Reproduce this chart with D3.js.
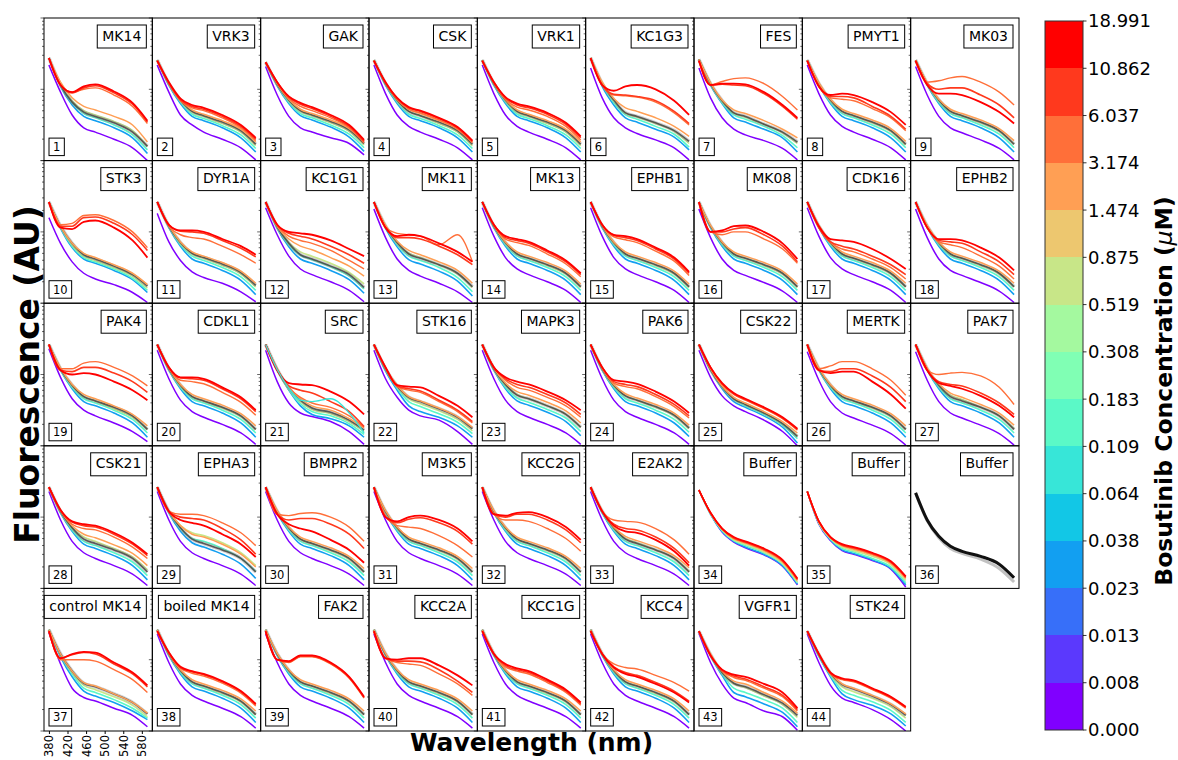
<!DOCTYPE html>
<html>
<head>
<meta charset="utf-8">
<script src="https://cdn.jsdelivr.net/npm/d3@7"></script>
<style>
  body { margin: 0; background: #fff; }
  svg { display: block; }
  text { font-family: "DejaVu Sans", sans-serif; }
</style>
</head>
<body>
<svg id="chart" width="1178" height="760"></svg>
<script>
// panel titles, in reading order (9 per row)
const kinases = ["MK14","VRK3","GAK","CSK","VRK1","KC1G3","FES","PMYT1","MK03",
  "STK3","DYR1A","KC1G1","MK11","MK13","EPHB1","MK08","CDK16","EPHB2",
  "PAK4","CDKL1","SRC","STK16","MAPK3","PAK6","CSK22","MERTK","PAK7",
  "CSK21","EPHA3","BMPR2","M3K5","KCC2G","E2AK2","Buffer","Buffer","Buffer",
  "control MK14","boiled MK14","FAK2","KCC2A","KCC1G","KCC4","VGFR1","STK24"];

// wavelengths (nm) at which each trace is sampled
const wavelengths = [380, 405, 430, 455, 480, 520, 560, 592];
const xTicks = [380, 420, 460, 500, 540, 580];

// colorbar boundaries (uM)
const concTicks = ["0.000","0.008","0.013","0.023","0.038","0.064","0.109","0.183",
  "0.308","0.519","0.875","1.474","3.174","6.037","10.862","18.991"];

// traces: log10 fluorescence (AU), one row per panel (null = no trace)
const conc0 = [
  [4.34,3.96,3.64,3.46,3.40,3.30,3.18,3.00],[4.34,3.96,3.64,3.50,3.40,3.30,3.18,3.01],
  [4.32,3.92,3.62,3.46,3.40,3.32,3.24,3.08],[4.34,3.94,3.64,3.48,3.40,3.30,3.18,3.01],
  [4.34,3.94,3.64,3.48,3.40,3.30,3.18,3.01],[4.30,3.88,3.60,3.46,3.38,3.29,3.18,3.01],
  [4.30,3.88,3.60,3.44,3.36,3.28,3.17,3.01],[4.34,3.94,3.64,3.48,3.40,3.30,3.18,3.01],
  [4.32,3.92,3.62,3.46,3.39,3.29,3.17,3.01],[4.20,3.84,3.58,3.42,3.34,3.26,3.15,3.01],
  [4.26,3.86,3.60,3.44,3.36,3.28,3.16,3.02],[4.34,3.96,3.66,3.48,3.40,3.30,3.18,3.02],
  [4.32,3.92,3.62,3.46,3.38,3.28,3.16,3.01],[4.34,3.94,3.64,3.48,3.40,3.30,3.18,3.01],
  [4.34,3.94,3.64,3.48,3.40,3.30,3.18,3.01],[4.32,3.92,3.62,3.46,3.39,3.29,3.17,3.01],
  [4.34,3.94,3.64,3.48,3.40,3.30,3.18,3.01],[4.32,3.92,3.62,3.46,3.39,3.29,3.17,3.01],
  [4.36,3.96,3.66,3.50,3.42,3.32,3.20,3.06],[4.34,3.94,3.64,3.48,3.40,3.30,3.18,3.02],
  [4.34,3.90,3.60,3.46,3.41,3.34,3.20,3.02],[4.34,3.94,3.68,3.50,3.42,3.36,3.20,3.02],
  [4.34,3.94,3.64,3.48,3.40,3.30,3.18,3.02],[4.34,3.94,3.64,3.48,3.40,3.30,3.18,3.02],
  [4.34,3.96,3.70,3.56,3.48,3.36,3.20,3.00],[4.32,3.92,3.62,3.46,3.39,3.29,3.17,3.01],
  [4.32,3.92,3.62,3.46,3.39,3.29,3.17,3.01],[4.36,3.96,3.66,3.50,3.42,3.32,3.20,3.04],
  [4.36,3.96,3.66,3.50,3.42,3.32,3.20,3.04],[4.36,3.96,3.66,3.50,3.42,3.32,3.20,3.04],
  [4.36,3.96,3.66,3.50,3.42,3.32,3.20,3.04],[4.36,3.96,3.66,3.50,3.42,3.32,3.20,3.04],
  [4.36,3.96,3.66,3.50,3.42,3.32,3.20,3.04],[4.38,4.05,3.79,3.65,3.57,3.47,3.31,3.05],
  [4.36,3.90,3.67,3.53,3.48,3.39,3.27,3.02],null,
  [4.38,3.94,3.60,3.47,3.42,3.32,3.22,3.06],[4.36,3.96,3.66,3.50,3.42,3.32,3.20,3.04],
  [4.36,3.96,3.66,3.50,3.42,3.32,3.20,3.04],[4.36,3.96,3.66,3.50,3.42,3.32,3.20,3.04],
  [4.36,3.96,3.66,3.50,3.42,3.32,3.20,3.04],[4.36,3.96,3.66,3.50,3.42,3.32,3.20,3.04],
  [4.37,3.96,3.66,3.46,3.40,3.28,3.20,3.01],[4.36,3.96,3.64,3.46,3.40,3.30,3.16,3.00]
];
const conc3 = [
  [4.44,4.04,3.78,3.62,3.56,3.46,3.32,3.10],[4.41,4.06,3.80,3.62,3.56,3.46,3.32,3.12],
  [4.38,4.05,3.80,3.63,3.57,3.47,3.33,3.13],[4.41,4.06,3.80,3.62,3.56,3.46,3.32,3.12],
  [4.41,4.06,3.80,3.62,3.56,3.46,3.32,3.12],[4.44,4.04,3.78,3.60,3.54,3.44,3.33,3.15],
  [4.42,4.06,3.80,3.60,3.54,3.44,3.32,3.12],[4.41,4.06,3.80,3.62,3.56,3.46,3.32,3.12],
  [4.41,4.06,3.80,3.62,3.56,3.46,3.32,3.12],[4.42,4.05,3.78,3.62,3.56,3.46,3.33,3.15],
  [4.42,4.06,3.80,3.62,3.56,3.46,3.32,3.12],[4.42,4.05,3.79,3.62,3.56,3.46,3.33,3.14],
  [4.42,4.05,3.79,3.61,3.55,3.45,3.31,3.10],[4.42,4.06,3.80,3.62,3.56,3.46,3.32,3.12],
  [4.42,4.06,3.80,3.62,3.56,3.46,3.32,3.12],[4.42,4.06,3.80,3.62,3.56,3.46,3.32,3.12],
  [4.42,4.06,3.80,3.62,3.56,3.46,3.32,3.12],[4.42,4.06,3.80,3.62,3.56,3.46,3.32,3.12],
  [4.42,4.06,3.80,3.62,3.56,3.46,3.32,3.12],[4.42,4.06,3.80,3.62,3.56,3.46,3.32,3.12],
  [4.42,4.06,3.78,3.56,3.44,3.38,3.28,3.12],[4.42,4.05,3.78,3.56,3.48,3.40,3.28,3.12],
  [4.42,4.06,3.80,3.63,3.57,3.47,3.34,3.14],[4.42,4.06,3.80,3.62,3.56,3.46,3.32,3.13],
  [4.42,4.06,3.80,3.62,3.54,3.42,3.26,3.04],[4.42,4.06,3.80,3.62,3.56,3.46,3.32,3.12],
  [4.42,4.06,3.80,3.62,3.56,3.46,3.32,3.12],[4.42,4.06,3.80,3.62,3.56,3.46,3.32,3.12],
  [4.42,4.06,3.80,3.64,3.58,3.48,3.34,3.14],[4.42,4.06,3.80,3.62,3.56,3.46,3.32,3.12],
  [4.42,4.06,3.80,3.62,3.56,3.46,3.32,3.12],[4.42,4.06,3.80,3.62,3.56,3.46,3.32,3.12],
  [4.42,4.06,3.80,3.62,3.56,3.46,3.32,3.12],[4.38,4.04,3.80,3.66,3.58,3.48,3.32,3.06],
  [4.36,3.91,3.68,3.54,3.49,3.40,3.28,3.05],null,
  [4.42,4.04,3.76,3.56,3.49,3.40,3.28,3.16],[4.42,4.06,3.80,3.62,3.56,3.46,3.32,3.12],
  [4.42,4.06,3.80,3.62,3.56,3.46,3.32,3.12],[4.42,4.06,3.80,3.62,3.56,3.46,3.32,3.12],
  [4.42,4.06,3.80,3.62,3.56,3.46,3.32,3.12],[4.42,4.06,3.80,3.62,3.56,3.46,3.32,3.12],
  [4.40,4.05,3.78,3.54,3.48,3.38,3.26,3.06],[4.40,4.05,3.76,3.52,3.44,3.36,3.24,3.07]
];
const conc6 = [
  [4.44,4.05,3.81,3.66,3.60,3.50,3.36,3.15],[4.41,4.07,3.82,3.65,3.59,3.49,3.36,3.17],
  [4.38,4.06,3.82,3.66,3.60,3.50,3.37,3.18],[4.41,4.07,3.82,3.65,3.59,3.49,3.36,3.17],
  [4.41,4.07,3.82,3.65,3.59,3.49,3.36,3.17],[4.44,4.07,3.81,3.64,3.58,3.48,3.37,3.19],
  [4.42,4.07,3.81,3.64,3.58,3.48,3.35,3.18],[4.41,4.07,3.82,3.66,3.60,3.50,3.37,3.18],
  [4.41,4.07,3.82,3.66,3.60,3.50,3.37,3.18],[4.42,4.06,3.80,3.64,3.58,3.48,3.35,3.18],
  [4.42,4.07,3.82,3.66,3.60,3.50,3.37,3.18],[4.42,4.06,3.82,3.67,3.61,3.51,3.38,3.20],
  [4.42,4.07,3.82,3.66,3.60,3.50,3.36,3.16],[4.42,4.07,3.82,3.66,3.60,3.50,3.37,3.18],
  [4.42,4.07,3.82,3.66,3.60,3.50,3.37,3.18],[4.42,4.07,3.82,3.66,3.60,3.50,3.37,3.18],
  [4.42,4.07,3.82,3.66,3.60,3.50,3.37,3.18],[4.42,4.07,3.82,3.66,3.60,3.50,3.37,3.18],
  [4.42,4.07,3.82,3.66,3.60,3.50,3.37,3.18],[4.42,4.07,3.82,3.66,3.60,3.50,3.37,3.18],
  [4.42,4.06,3.79,3.59,3.48,3.42,3.31,3.16],[4.42,4.07,3.81,3.62,3.55,3.45,3.33,3.17],
  [4.42,4.07,3.82,3.67,3.61,3.51,3.39,3.20],[4.42,4.07,3.82,3.66,3.60,3.50,3.37,3.19],
  [4.42,4.07,3.82,3.65,3.56,3.44,3.29,3.10],[4.42,4.07,3.82,3.66,3.60,3.50,3.37,3.18],
  [4.42,4.07,3.82,3.66,3.60,3.50,3.37,3.18],[4.42,4.07,3.82,3.66,3.60,3.50,3.37,3.18],
  [4.42,4.07,3.84,3.70,3.66,3.56,3.42,3.24],[4.42,4.07,3.82,3.66,3.60,3.50,3.37,3.18],
  [4.42,4.07,3.82,3.66,3.60,3.50,3.37,3.18],[4.42,4.07,3.82,3.66,3.60,3.50,3.37,3.18],
  [4.42,4.07,3.82,3.66,3.60,3.50,3.37,3.18],[4.38,4.05,3.81,3.67,3.60,3.50,3.34,3.08],
  [4.36,3.92,3.69,3.56,3.51,3.42,3.30,3.08],null,
  [4.42,4.06,3.80,3.60,3.54,3.44,3.32,3.18],[4.42,4.07,3.82,3.66,3.60,3.50,3.37,3.18],
  [4.42,4.07,3.82,3.66,3.60,3.50,3.37,3.18],[4.42,4.07,3.82,3.66,3.60,3.50,3.37,3.18],
  [4.42,4.07,3.82,3.66,3.60,3.50,3.37,3.18],[4.42,4.07,3.82,3.66,3.60,3.50,3.37,3.18],
  [4.40,4.06,3.80,3.60,3.54,3.44,3.32,3.12],[4.40,4.06,3.78,3.57,3.50,3.41,3.29,3.12]
];
const conc9 = [
  [4.44,4.07,3.84,3.70,3.64,3.55,3.42,3.20],[4.41,4.08,3.84,3.68,3.62,3.52,3.40,3.21],
  [4.38,4.07,3.84,3.69,3.63,3.53,3.41,3.22],[4.41,4.08,3.84,3.69,3.63,3.52,3.40,3.21],
  [4.41,4.08,3.84,3.68,3.62,3.52,3.40,3.21],[4.44,4.08,3.84,3.67,3.61,3.52,3.41,3.24],
  [4.42,4.08,3.83,3.67,3.61,3.51,3.39,3.24],[4.41,4.08,3.84,3.69,3.63,3.53,3.41,3.22],
  [4.41,4.08,3.84,3.69,3.63,3.53,3.41,3.23],[4.42,4.07,3.82,3.66,3.60,3.50,3.38,3.21],
  [4.42,4.08,3.84,3.69,3.63,3.53,3.41,3.23],[4.42,4.07,3.85,3.72,3.66,3.56,3.43,3.27],
  [4.42,4.08,3.84,3.70,3.64,3.54,3.41,3.22],[4.42,4.08,3.84,3.69,3.63,3.53,3.41,3.22],
  [4.42,4.08,3.84,3.69,3.63,3.53,3.41,3.22],[4.42,4.08,3.84,3.69,3.63,3.53,3.41,3.22],
  [4.42,4.08,3.84,3.69,3.63,3.53,3.41,3.23],[4.42,4.08,3.84,3.69,3.63,3.53,3.41,3.23],
  [4.42,4.08,3.84,3.69,3.63,3.52,3.40,3.23],[4.42,4.08,3.84,3.69,3.63,3.53,3.41,3.23],
  [4.42,4.07,3.80,3.62,3.51,3.45,3.34,3.20],[4.42,4.08,3.83,3.66,3.59,3.49,3.37,3.21],
  [4.42,4.08,3.85,3.72,3.66,3.56,3.44,3.26],[4.42,4.08,3.84,3.70,3.64,3.54,3.42,3.24],
  [4.42,4.07,3.83,3.66,3.58,3.46,3.31,3.14],[4.42,4.08,3.84,3.69,3.63,3.53,3.41,3.23],
  [4.42,4.08,3.85,3.71,3.65,3.54,3.42,3.24],[4.42,4.08,3.85,3.72,3.66,3.56,3.44,3.26],
  [4.42,4.08,3.88,3.78,3.74,3.64,3.50,3.32],[4.42,4.08,3.84,3.69,3.63,3.53,3.41,3.23],
  [4.42,4.08,3.84,3.69,3.63,3.53,3.41,3.23],[4.42,4.08,3.84,3.69,3.63,3.53,3.41,3.23],
  [4.42,4.08,3.84,3.70,3.64,3.54,3.42,3.24],[4.38,4.05,3.82,3.68,3.62,3.51,3.35,3.09],
  [4.36,3.92,3.70,3.58,3.53,3.45,3.33,3.11],null,
  [4.42,4.07,3.82,3.64,3.58,3.48,3.36,3.20],[4.42,4.08,3.84,3.69,3.63,3.53,3.41,3.23],
  [4.42,4.08,3.84,3.69,3.63,3.53,3.41,3.23],[4.42,4.08,3.84,3.69,3.63,3.53,3.41,3.23],
  [4.42,4.08,3.84,3.69,3.63,3.53,3.41,3.23],[4.42,4.08,3.84,3.69,3.63,3.53,3.41,3.23],
  [4.40,4.07,3.82,3.66,3.61,3.49,3.37,3.19],[4.40,4.07,3.80,3.62,3.55,3.46,3.34,3.18]
];
const conc11 = [
  [4.44,4.10,3.88,3.76,3.71,3.62,3.50,3.26],[4.41,4.09,3.86,3.71,3.65,3.56,3.44,3.26],
  [4.38,4.08,3.86,3.72,3.66,3.57,3.45,3.27],[4.41,4.09,3.86,3.72,3.66,3.56,3.44,3.26],
  [4.41,4.09,3.86,3.71,3.65,3.56,3.44,3.26],[4.44,4.10,3.87,3.74,3.69,3.60,3.48,3.34],
  [4.42,4.09,3.85,3.71,3.66,3.56,3.44,3.32],[4.41,4.09,3.86,3.72,3.66,3.57,3.45,3.27],
  [4.41,4.09,3.86,3.72,3.66,3.57,3.45,3.28],[4.42,4.08,3.84,3.70,3.64,3.54,3.42,3.26],
  [4.42,4.09,3.86,3.72,3.66,3.57,3.45,3.28],[4.42,4.08,3.90,3.80,3.75,3.64,3.52,3.38],
  [4.42,4.09,3.87,3.74,3.68,3.58,3.46,3.28],[4.42,4.09,3.86,3.72,3.66,3.57,3.45,3.27],
  [4.42,4.09,3.86,3.72,3.66,3.57,3.45,3.27],[4.42,4.09,3.86,3.72,3.66,3.57,3.45,3.27],
  [4.42,4.09,3.86,3.72,3.66,3.57,3.45,3.28],[4.42,4.09,3.86,3.72,3.66,3.57,3.45,3.28],
  [4.42,4.09,3.86,3.72,3.66,3.56,3.44,3.28],[4.42,4.09,3.86,3.72,3.66,3.57,3.45,3.28],
  [4.42,4.08,3.82,3.66,3.56,3.50,3.38,3.25],[4.42,4.09,3.85,3.69,3.63,3.53,3.41,3.26],
  [4.42,4.09,3.88,3.76,3.71,3.61,3.49,3.32],[4.42,4.09,3.86,3.73,3.67,3.58,3.46,3.29],
  [4.42,4.08,3.84,3.68,3.60,3.48,3.34,3.18],[4.42,4.09,3.86,3.72,3.66,3.57,3.45,3.28],
  [4.42,4.09,3.87,3.74,3.68,3.58,3.46,3.29],[4.42,4.09,3.88,3.76,3.71,3.61,3.49,3.32],
  [4.42,4.08,3.88,3.76,3.72,3.62,3.48,3.30],[4.42,4.09,3.86,3.72,3.66,3.57,3.45,3.28],
  [4.42,4.09,3.86,3.72,3.66,3.57,3.45,3.28],[4.42,4.09,3.86,3.72,3.66,3.57,3.45,3.28],
  [4.42,4.09,3.86,3.73,3.67,3.58,3.46,3.29],[4.38,4.06,3.83,3.70,3.64,3.53,3.37,3.11],
  [4.36,3.93,3.71,3.60,3.55,3.47,3.35,3.14],null,
  [4.42,4.08,3.84,3.68,3.63,3.52,3.40,3.25],[4.42,4.09,3.86,3.72,3.66,3.57,3.45,3.28],
  [4.42,4.09,3.86,3.72,3.66,3.57,3.45,3.28],[4.42,4.09,3.86,3.72,3.66,3.57,3.45,3.28],
  [4.42,4.09,3.86,3.72,3.66,3.57,3.45,3.28],[4.42,4.09,3.86,3.72,3.66,3.57,3.45,3.28],
  [4.40,4.08,3.84,3.70,3.66,3.54,3.42,3.25],[4.40,4.08,3.82,3.66,3.60,3.50,3.38,3.24]
];
const conc12 = [
  [4.44,4.06,3.96,4.00,4.02,3.92,3.76,3.52],[4.40,4.08,3.84,3.74,3.70,3.60,3.46,3.28],
  [4.38,4.09,3.87,3.76,3.70,3.60,3.46,3.25],[4.40,4.09,3.86,3.72,3.67,3.57,3.44,3.25],
  [4.40,4.09,3.86,3.75,3.71,3.62,3.48,3.29],[4.44,4.06,3.92,3.91,3.89,3.82,3.67,3.50],
  [4.40,4.06,4.11,4.15,4.16,4.08,3.90,3.71],[4.40,4.04,3.88,3.86,3.84,3.73,3.60,3.42],
  [4.40,4.10,4.12,4.16,4.18,4.10,3.96,3.78],[4.42,4.10,4.12,4.23,4.24,4.16,4.00,3.78],
  [4.42,4.08,3.96,3.92,3.90,3.80,3.68,3.56],[4.42,4.09,3.94,3.88,3.84,3.74,3.60,3.48],
  [4.42,4.06,3.98,3.96,3.94,3.82,3.96,3.58],[4.42,4.09,3.90,3.85,3.81,3.69,3.55,3.37],
  [4.42,4.09,3.93,3.89,3.85,3.73,3.59,3.39],[4.42,4.00,3.96,4.00,4.00,3.90,3.76,3.56],
  [4.42,4.06,3.85,3.76,3.72,3.62,3.50,3.34],[4.42,4.06,3.86,3.82,3.78,3.66,3.52,3.34],
  [4.42,4.08,4.08,4.16,4.18,4.10,3.98,3.84],[4.42,4.09,3.92,3.90,3.87,3.75,3.61,3.43],
  [4.42,4.08,3.82,3.68,3.60,3.54,3.42,3.26],[4.42,4.09,3.83,3.78,3.75,3.62,3.48,3.32],
  [4.42,4.10,3.92,3.82,3.78,3.68,3.56,3.40],[4.42,4.09,3.88,3.83,3.80,3.69,3.55,3.39],
  [4.42,4.09,3.86,3.72,3.64,3.52,3.38,3.22],[4.42,4.08,4.12,4.18,4.18,4.08,3.92,3.71],
  [4.42,4.06,4.00,4.02,4.03,3.98,3.82,3.58],[4.42,4.09,3.90,3.84,3.82,3.72,3.58,3.42],
  [4.42,4.08,4.04,4.04,4.02,3.92,3.78,3.60],[4.42,4.04,4.02,4.05,4.06,4.00,3.86,3.66],
  [4.42,4.02,3.88,3.86,3.84,3.74,3.60,3.44],[4.42,4.04,3.96,3.96,3.94,3.84,3.70,3.52],
  [4.42,4.08,3.96,3.94,3.93,3.84,3.68,3.48],[4.38,4.06,3.83,3.70,3.64,3.54,3.38,3.12],
  [4.36,3.94,3.71,3.60,3.56,3.48,3.36,3.15],null,
  [4.40,4.00,4.00,4.00,3.98,3.86,3.72,3.54],[4.40,4.09,3.88,3.81,3.77,3.67,3.53,3.35],
  [4.40,4.00,3.96,4.04,4.04,3.94,3.74,3.46],[4.40,4.02,3.96,3.94,3.92,3.80,3.66,3.50],
  [4.40,4.08,3.90,3.84,3.80,3.68,3.54,3.36],[4.40,4.08,3.94,3.89,3.87,3.78,3.68,3.56],
  [4.40,4.06,3.84,3.75,3.71,3.60,3.48,3.28],[4.40,4.08,3.80,3.72,3.69,3.58,3.46,3.32]
];
const conc13 = [
  [4.44,4.06,3.95,4.02,4.05,3.95,3.79,3.54],[4.40,4.09,3.85,3.76,3.72,3.62,3.48,3.30],
  [4.38,4.10,3.89,3.79,3.73,3.62,3.48,3.27],[4.40,4.09,3.87,3.74,3.69,3.59,3.46,3.27],
  [4.40,4.10,3.88,3.78,3.74,3.65,3.51,3.32],[4.44,4.06,3.93,3.92,3.90,3.84,3.69,3.52],
  [4.40,4.06,4.07,4.06,4.05,3.94,3.76,3.58],[4.40,4.04,3.90,3.90,3.88,3.76,3.62,3.44],
  [4.40,4.08,4.00,4.02,4.02,3.92,3.78,3.60],[4.42,4.08,4.08,4.20,4.21,4.12,3.96,3.74],
  [4.42,4.10,4.01,4.00,3.98,3.88,3.77,3.65],[4.42,4.10,3.98,3.94,3.90,3.80,3.68,3.56],
  [4.42,4.06,3.92,3.92,3.90,3.80,3.68,3.54],[4.42,4.10,3.92,3.88,3.84,3.72,3.58,3.40],
  [4.42,4.10,3.95,3.92,3.88,3.76,3.62,3.42],[4.42,4.00,4.00,4.04,4.06,3.96,3.80,3.58],
  [4.42,4.06,3.86,3.80,3.76,3.66,3.54,3.40],[4.42,4.06,3.88,3.86,3.84,3.72,3.58,3.40],
  [4.42,4.06,4.04,4.10,4.10,4.02,3.90,3.75],[4.42,4.10,3.95,3.94,3.92,3.80,3.66,3.48],
  [4.42,4.06,3.84,3.78,3.74,3.62,3.48,3.27],[4.42,4.10,3.84,3.80,3.77,3.64,3.50,3.34],
  [4.42,4.10,3.94,3.86,3.82,3.72,3.60,3.44],[4.42,4.10,3.90,3.86,3.83,3.72,3.58,3.42],
  [4.42,4.10,3.87,3.73,3.65,3.53,3.39,3.23],[4.42,4.06,4.04,4.08,4.08,3.98,3.82,3.62],
  [4.42,4.06,3.90,3.86,3.84,3.74,3.60,3.44],[4.42,4.10,3.93,3.88,3.86,3.76,3.62,3.46],
  [4.42,4.08,4.00,3.98,3.96,3.84,3.68,3.48],[4.42,4.04,3.96,3.98,3.98,3.90,3.76,3.56],
  [4.42,4.00,3.92,3.97,3.99,3.92,3.80,3.62],[4.42,4.04,4.00,4.04,4.04,3.96,3.82,3.64],
  [4.42,4.08,3.90,3.84,3.82,3.72,3.56,3.36],[4.38,4.06,3.84,3.71,3.65,3.55,3.39,3.13],
  [4.36,3.94,3.72,3.61,3.57,3.49,3.37,3.16],null,
  [4.40,4.02,4.07,4.10,4.08,3.94,3.80,3.62],[4.40,4.10,3.89,3.83,3.79,3.69,3.55,3.37],
  [4.40,4.00,3.97,4.05,4.05,3.95,3.75,3.47],[4.40,4.02,3.98,3.98,3.97,3.86,3.70,3.54],
  [4.40,4.08,3.92,3.86,3.82,3.70,3.56,3.38],[4.40,4.08,3.90,3.82,3.78,3.68,3.56,3.42],
  [4.40,4.06,3.85,3.77,3.73,3.62,3.50,3.30],[4.40,4.08,3.81,3.73,3.70,3.59,3.47,3.33]
];
const conc14 = [
  [4.44,4.06,3.96,4.04,4.07,3.97,3.81,3.56],[4.40,4.10,3.87,3.78,3.74,3.64,3.50,3.32],
  [4.38,4.10,3.90,3.81,3.75,3.64,3.50,3.29],[4.40,4.10,3.88,3.75,3.70,3.60,3.47,3.28],
  [4.40,4.10,3.89,3.80,3.76,3.67,3.53,3.34],[4.44,4.06,3.98,4.04,4.06,4.00,3.84,3.64],
  [4.40,4.06,4.08,4.08,4.07,3.96,3.78,3.60],[4.40,4.04,3.92,3.94,3.92,3.82,3.68,3.50],
  [4.40,4.06,3.94,3.94,3.92,3.82,3.68,3.52],[4.42,4.06,4.04,4.14,4.16,4.06,3.88,3.64],
  [4.42,4.10,4.02,4.02,4.00,3.90,3.80,3.68],[4.42,4.10,4.00,3.98,3.96,3.88,3.76,3.66],
  [4.42,4.06,3.94,3.96,3.94,3.84,3.72,3.58],[4.42,4.10,3.94,3.90,3.86,3.74,3.60,3.42],
  [4.42,4.10,3.96,3.94,3.90,3.78,3.64,3.44],[4.42,4.00,4.02,4.08,4.09,4.00,3.84,3.62],
  [4.42,4.08,3.90,3.88,3.86,3.76,3.62,3.48],[4.42,4.06,3.90,3.90,3.88,3.78,3.64,3.46],
  [4.42,4.06,4.00,4.02,4.00,3.90,3.78,3.64],[4.42,4.10,3.96,3.96,3.94,3.82,3.68,3.50],
  [4.42,4.06,3.88,3.86,3.85,3.76,3.62,3.44],[4.42,4.10,3.85,3.83,3.82,3.70,3.56,3.40],
  [4.42,4.10,3.96,3.90,3.86,3.76,3.64,3.50],[4.42,4.10,3.92,3.90,3.87,3.76,3.62,3.46],
  [4.42,4.10,3.88,3.74,3.66,3.54,3.40,3.24],[4.42,4.06,4.02,4.04,4.04,3.90,3.72,3.52],
  [4.42,4.06,3.88,3.84,3.80,3.70,3.56,3.40],[4.42,4.10,3.94,3.90,3.88,3.78,3.64,3.48],
  [4.42,4.08,3.96,3.92,3.88,3.76,3.62,3.44],[4.42,4.04,3.90,3.84,3.80,3.68,3.54,3.36],
  [4.42,4.00,3.94,4.00,4.02,3.96,3.84,3.66],[4.42,4.04,4.02,4.06,4.07,4.00,3.86,3.68],
  [4.42,4.08,3.88,3.80,3.78,3.68,3.52,3.32],[4.38,4.06,3.84,3.72,3.66,3.56,3.40,3.14],
  [4.36,3.94,3.72,3.62,3.58,3.50,3.38,3.17],null,
  [4.40,4.02,4.08,4.11,4.10,3.96,3.82,3.64],[4.40,4.10,3.90,3.84,3.80,3.70,3.56,3.38],
  [4.40,4.00,3.98,4.06,4.06,3.96,3.76,3.48],[4.40,4.02,4.00,4.02,4.02,3.92,3.78,3.64],
  [4.40,4.08,3.94,3.88,3.84,3.72,3.58,3.40],[4.40,4.08,3.89,3.80,3.76,3.66,3.54,3.40],
  [4.40,4.06,3.86,3.79,3.76,3.66,3.54,3.32],[4.40,4.08,3.82,3.74,3.71,3.60,3.48,3.34]
];
// replicate reference runs drawn in gray
const grayRuns = [
  [4.44,4.06,3.82,3.68,3.62,3.53,3.40,3.20],[4.41,4.08,3.85,3.69,3.63,3.54,3.42,3.23],
  [4.38,4.07,3.85,3.70,3.64,3.55,3.43,3.24],[4.41,4.08,3.85,3.69,3.63,3.54,3.42,3.23],
  [4.41,4.08,3.85,3.69,3.63,3.54,3.42,3.23],[4.44,4.08,3.85,3.67,3.62,3.53,3.42,3.27],
  [4.42,4.08,3.84,3.67,3.62,3.51,3.40,3.26],[4.41,4.08,3.85,3.69,3.63,3.54,3.42,3.23],
  [4.41,4.08,3.85,3.69,3.63,3.54,3.42,3.23],[4.42,4.08,3.84,3.68,3.62,3.52,3.40,3.24],
  [4.42,4.08,3.85,3.70,3.64,3.55,3.43,3.25],[4.42,4.07,3.84,3.68,3.62,3.52,3.40,3.22],
  [4.42,4.08,3.85,3.69,3.63,3.54,3.42,3.23],[4.42,4.08,3.85,3.69,3.63,3.54,3.42,3.23],
  [4.42,4.08,3.85,3.69,3.63,3.54,3.42,3.23],[4.42,4.08,3.85,3.69,3.63,3.54,3.42,3.23],
  [4.42,4.08,3.85,3.69,3.63,3.54,3.42,3.23],[4.42,4.08,3.85,3.69,3.63,3.54,3.42,3.23],
  [4.42,4.08,3.85,3.69,3.63,3.54,3.42,3.23],[4.42,4.08,3.85,3.69,3.63,3.54,3.42,3.23],
  [4.42,4.07,3.81,3.64,3.53,3.47,3.36,3.22],[4.42,4.08,3.84,3.68,3.62,3.52,3.40,3.24],
  [4.42,4.08,3.86,3.71,3.66,3.56,3.44,3.26],[4.42,4.08,3.85,3.70,3.64,3.55,3.43,3.25],
  [4.42,4.07,3.83,3.66,3.58,3.46,3.31,3.13],[4.42,4.08,3.85,3.69,3.63,3.54,3.42,3.23],
  [4.42,4.08,3.85,3.69,3.63,3.54,3.42,3.23],[4.42,4.08,3.85,3.69,3.63,3.54,3.42,3.23],
  [4.42,4.08,3.85,3.69,3.63,3.54,3.42,3.23],[4.42,4.08,3.85,3.69,3.63,3.54,3.42,3.23],
  [4.42,4.08,3.85,3.69,3.63,3.54,3.42,3.23],[4.42,4.08,3.85,3.69,3.63,3.54,3.42,3.23],
  [4.42,4.08,3.85,3.69,3.63,3.54,3.42,3.23],null,null,null,
  [4.42,4.08,3.84,3.67,3.62,3.52,3.40,3.24],[4.42,4.08,3.85,3.69,3.63,3.54,3.42,3.23],
  [4.42,4.08,3.85,3.69,3.63,3.54,3.42,3.23],[4.42,4.08,3.85,3.69,3.63,3.54,3.42,3.23],
  [4.42,4.08,3.85,3.69,3.63,3.54,3.42,3.23],[4.42,4.08,3.85,3.69,3.63,3.54,3.42,3.23],
  [4.40,4.07,3.82,3.67,3.62,3.51,3.39,3.22],[4.40,4.07,3.81,3.65,3.59,3.49,3.37,3.22]
];
// panel 36: buffer-only runs (black / gray)
const bufferDark = [4.34,3.96,3.73,3.59,3.52,3.45,3.34,3.15];
const bufferLight = [4.34,3.95,3.71,3.56,3.49,3.41,3.28,3.09];
// SRC (panel 21): one 0.064-0.109 uM run that jumps
const srcOddRun = [4.42,4.07,3.81,3.64,3.62,3.66,3.46,3.18];

// ---- layout ----
const W = 1178, H = 760;
const gridLeft = 44, gridTop = 18, gridRight = 1019, gridBottom = 731;
const nCols = 9, nRows = 5;
const cellW = (gridRight - gridLeft) / nCols;
const cellH = (gridBottom - gridTop) / nRows;

// matplotlib 'rainbow' colormap
function rainbow(t) {
  const r = Math.min(1, Math.abs(2 * t - 0.5));
  const g = Math.sin(Math.PI * t);
  const b = Math.cos(Math.PI * t / 2);
  return d3.rgb(r * 255, g * 255, b * 255).formatHex();
}
const nBands = concTicks.length - 1;
const bandColor = i => rainbow(i / (nBands - 1));

const svg = d3.select('#chart');
svg.append('rect').attr('width', W).attr('height', H).attr('fill', '#fff');

const x = d3.scaleLinear().domain([369.4, 602.6]).range([0, cellW]);
const y = d3.scaleLog().domain([1e3, 1e5]).range([cellH, 0]);

const line = d3.line()
  .x((d, i) => x(wavelengths[i]))
  .y(d => y(Math.pow(10, d)))
  .curve(d3.curveMonotoneX);

const layers = [
  { data: conc0, color: bandColor(0), w: 1.5 },
  { data: conc3, color: bandColor(3), w: 1.6 },
  { data: conc6, color: bandColor(6), w: 1.6 },
  { data: conc9, color: bandColor(9), w: 1.6 },
  { data: grayRuns, color: '#888', w: 3.6, op: 0.4 },
  { data: grayRuns, color: '#444', w: 1.6, op: 0.85 },
  { data: conc11, color: bandColor(11), w: 1.5 },
  { data: conc12, color: bandColor(12), w: 1.4 },
  { data: conc13, color: bandColor(13), w: 1.6 },
  { data: conc14, color: bandColor(14), w: 1.8 }
];

// minor/major log ticks
const yTickVals = [];
for (let e = 3; e < 5; e++) for (let k = 1; k < 10; k++) yTickVals.push(k * Math.pow(10, e));
yTickVals.push(1e5);

kinases.forEach((name, i) => {
  const col = i % nCols, row = Math.floor(i / nCols);
  const p = svg.append('g')
    .attr('transform', `translate(${gridLeft + col * cellW},${gridTop + row * cellH})`);

  const clipId = 'clip' + i;
  p.append('clipPath').attr('id', clipId)
    .append('rect').attr('width', cellW).attr('height', cellH);
  const plot = p.append('g').attr('clip-path', `url(#${clipId})`);

  if (i === 35) {
    plot.append('path').attr('d', line(bufferLight)).attr('fill', 'none')
      .attr('stroke', '#999').attr('stroke-width', 3).attr('opacity', 0.6);
    plot.append('path').attr('d', line(bufferDark)).attr('fill', 'none')
      .attr('stroke', '#111').attr('stroke-width', 3);
  }
  layers.forEach(L => {
    const d = L.data[i];
    if (!d) return;
    plot.append('path').attr('d', line(d)).attr('fill', 'none')
      .attr('stroke', L.color).attr('stroke-width', L.w)
      .attr('stroke-linejoin', 'round')
      .attr('opacity', L.op || 1);
  });
  if (i === 20) {
    plot.append('path').attr('d', line(srcOddRun)).attr('fill', 'none')
      .attr('stroke', bandColor(5)).attr('stroke-width', 1.3);
  }

  // y ticks (log, outward, no labels)
  p.selectAll('.yt').data(yTickVals).enter().append('line')
    .attr('x1', v => (Math.log10(v) % 1 === 0 ? -3.5 : -2)).attr('x2', 0)
    .attr('y1', v => y(v)).attr('y2', v => y(v))
    .attr('stroke', '#000').attr('stroke-width', 0.6);

  // frame
  p.append('rect').attr('width', cellW).attr('height', cellH)
    .attr('fill', 'none').attr('stroke', '#000').attr('stroke-width', 1);

  // kinase name box (top right)
  const nt = p.append('text').attr('font-size', 14).attr('text-anchor', 'end')
    .attr('x', cellW - 11).attr('y', 22.5).text(name);
  const tw = nt.node().getComputedTextLength();
  p.insert('rect', 'text')
    .attr('x', cellW - 11 - tw - 5).attr('y', 7)
    .attr('width', tw + 10).attr('height', 23)
    .attr('fill', '#fff').attr('stroke', '#000').attr('stroke-width', 1);

  // panel number box (bottom left)
  const label = String(i + 1);
  const lt = p.append('text').attr('font-size', 11.5)
    .attr('x', 9).attr('y', cellH - 9.5).text(label);
  const lw = lt.node().getComputedTextLength();
  p.insert('rect', 'text')
    .attr('x', 5).attr('y', cellH - 22.5)
    .attr('width', lw + 8).attr('height', 17.5)
    .attr('fill', '#fff').attr('stroke', '#000').attr('stroke-width', 1);

  // x tick labels only on panel 37
  if (i === 36) {
    const ax = p.append('g').attr('transform', `translate(0,${cellH})`)
      .call(d3.axisBottom(x).tickValues(xTicks).tickSize(3).tickFormat(d3.format('d')));
    ax.select('.domain').remove();
    ax.selectAll('text')
      .attr('font-family', '"DejaVu Sans", sans-serif').attr('font-size', 11.5)
      .attr('fill', '#000')
      .attr('transform', 'rotate(-90)')
      .attr('text-anchor', 'end').attr('x', -4).attr('y', 0).attr('dy', '0.35em');
  }
});

// ---- colorbar ----
const cbX = 1045, cbW = 38, cbTop = 21, cbBottom = 730;
const cb = d3.scaleLinear().domain([0, nBands]).range([cbBottom, cbTop]);
const cbg = svg.append('g');
d3.range(nBands).forEach(i => {
  cbg.append('rect').attr('x', cbX).attr('y', cb(i + 1))
    .attr('width', cbW).attr('height', cb(i) - cb(i + 1))
    .attr('fill', bandColor(i)).attr('shape-rendering', 'crispEdges');
});
cbg.append('rect').attr('x', cbX).attr('y', cbTop).attr('width', cbW)
  .attr('height', cbBottom - cbTop).attr('fill', 'none')
  .attr('stroke', '#333').attr('stroke-width', 1);
concTicks.forEach((t, i) => {
  cbg.append('line').attr('x1', cbX + cbW).attr('x2', cbX + cbW + 3.5)
    .attr('y1', cb(i)).attr('y2', cb(i)).attr('stroke', '#000').attr('stroke-width', 0.8);
  cbg.append('text').attr('x', cbX + cbW + 5).attr('y', cb(i)).attr('dy', '0.36em')
    .attr('font-size', 18).text(t);
});
const cbl = svg.append('text')
  .attr('transform', `translate(1172,391) rotate(-90)`)
  .attr('text-anchor', 'middle').attr('font-size', 23.5).attr('font-weight', 'bold');
cbl.append('tspan').text('Bosutinib Concentration (');
cbl.append('tspan').attr('font-style', 'italic').attr('font-weight', 'normal').text('\u03bc');
cbl.append('tspan').text('M)');

// ---- axis titles ----
svg.append('text')
  .attr('transform', `translate(39,${(gridTop + gridBottom) / 2}) rotate(-90)`)
  .attr('text-anchor', 'middle').attr('font-size', 33).attr('font-weight', 'bold')
  .text('Fluorescence (AU)');
svg.append('text')
  .attr('x', (gridLeft + gridRight) / 2).attr('y', 751)
  .attr('text-anchor', 'middle').attr('font-size', 25).attr('font-weight', 'bold')
  .text('Wavelength (nm)');
</script>
</body>
</html>
